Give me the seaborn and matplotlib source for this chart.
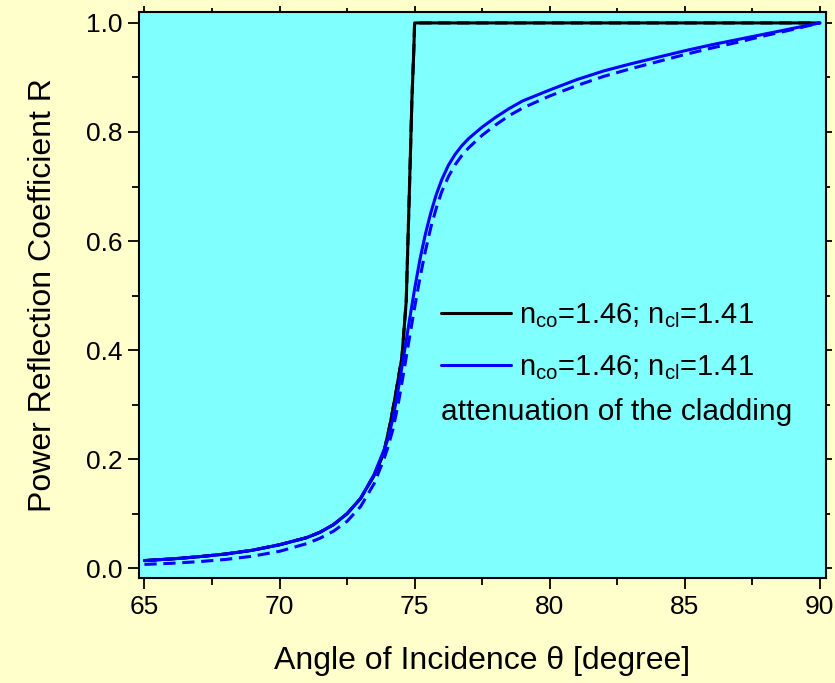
import numpy as np
import pandas as pd
import matplotlib
matplotlib.use("Agg")
import matplotlib.pyplot as plt
from matplotlib.ticker import MultipleLocator, FormatStrFormatter
import seaborn as sns

# ── data ──────────────────────────────────────────────────
# lossless cladding: reflection jumps to 1 at the critical angle
ang_black = [65.0, 66.0, 67.0, 68.0, 69.0, 70.0, 71.0, 71.5, 72.0, 72.5,
             73.0, 73.5, 73.85, 74.1, 74.3, 74.53, 74.69, 74.8, 74.9, 74.97,
             75.0, 80.0, 85.0, 90.0]
R_black   = [0.014, 0.017, 0.021, 0.026, 0.033, 0.043, 0.056, 0.066, 0.080,
             0.100, 0.128, 0.170, 0.210, 0.266, 0.320, 0.387, 0.490, 0.680,
             0.860, 0.950, 1.0, 1.0, 1.0, 1.0]

# lossy cladding (solid blue)
ang_blue = [65.0, 66.0, 67.0, 68.0, 69.0, 70.0, 71.0, 71.5, 72.0, 72.5,
            73.0, 73.5, 73.85, 74.0, 74.2, 74.4, 74.6, 74.8, 75.0, 75.2,
            75.4, 75.6, 75.8, 76.0, 76.25, 76.5, 76.75, 77.0, 77.5, 78.0,
            78.5, 79.0, 80.0, 81.0, 82.0, 83.0, 84.0, 85.0, 86.0, 87.0,
            88.0, 89.0, 90.0]
R_blue   = [0.014, 0.017, 0.021, 0.026, 0.033, 0.043, 0.056, 0.066, 0.080,
            0.100, 0.128, 0.172, 0.215, 0.235, 0.275, 0.330, 0.390, 0.452,
            0.512, 0.567, 0.613, 0.652, 0.685, 0.712, 0.739, 0.759, 0.775,
            0.788, 0.809, 0.827, 0.843, 0.857, 0.877, 0.896, 0.912, 0.925,
            0.937, 0.949, 0.960, 0.970, 0.980, 0.990, 1.0]

# lossy cladding (dashed blue)
ang_dash = [65.0, 66.0, 67.0, 68.0, 69.0, 70.0, 71.0, 71.5, 72.0, 72.5,
            73.0, 73.5, 73.85, 74.0, 74.2, 74.4, 74.6, 74.8, 75.0, 75.2,
            75.4, 75.6, 75.8, 76.0, 76.25, 76.5, 76.75, 77.0, 77.5, 78.0,
            78.5, 79.0, 80.0, 81.0, 82.0, 83.0, 84.0, 85.0, 86.0, 87.0,
            88.0, 89.0, 90.0]
R_dash   = [0.007, 0.009, 0.012, 0.016, 0.022, 0.031, 0.045, 0.055, 0.068,
            0.086, 0.113, 0.155, 0.198, 0.220, 0.255, 0.303, 0.360, 0.420,
            0.478, 0.533, 0.582, 0.625, 0.660, 0.690, 0.718, 0.740, 0.757,
            0.771, 0.794, 0.813, 0.830, 0.844, 0.866, 0.885, 0.902, 0.916,
            0.929, 0.942, 0.954, 0.965, 0.977, 0.988, 1.0]

label = r"n$_{\mathrm{co}}$=1.46; n$_{\mathrm{cl}}$=1.41"
note  = "attenuation of the cladding"

# ── style ─────────────────────────────────────────────────
sns.set_theme(style="ticks")
plt.rcParams["font.family"] = ["Liberation Sans", "DejaVu Sans"]
plt.rcParams["mathtext.fontset"] = "custom"
plt.rcParams["mathtext.rm"] = "Liberation Sans"
plt.rcParams["mathtext.it"] = "Liberation Sans:italic"
for k in ["text.color", "axes.labelcolor", "xtick.color", "ytick.color"]:
    plt.rcParams[k] = "black"

fig = plt.figure(figsize=(8.35, 6.83), dpi=100, facecolor="#FFFFCC")
ax = fig.add_axes([0.1665, 0.1537, 0.8225, 0.8287])
ax.set_facecolor("#80FFFF")

LW = 2.2
sns.lineplot(x=ang_black, y=R_black, ax=ax, color="black", lw=LW,
             estimator=None, sort=False, label=label)
sns.lineplot(x=ang_black, y=R_black, ax=ax, color="black", lw=LW,
             estimator=None, sort=False)
ax.lines[-1].set_linestyle((0, (4, 2.2)))
sns.lineplot(x=ang_dash, y=R_dash, ax=ax, color="#0000FF", lw=LW,
             estimator=None, sort=False)
ax.lines[-1].set_linestyle((0, (4, 2.2)))
sns.lineplot(x=ang_blue, y=R_blue, ax=ax, color="#0000FF", lw=LW,
             estimator=None, sort=False, label=label)

ax.set_xlim(64.8, 90.22)
ax.set_ylim(-0.018, 1.02)
ax.xaxis.set_major_locator(MultipleLocator(5))
ax.xaxis.set_minor_locator(MultipleLocator(2.5))
ax.yaxis.set_major_locator(MultipleLocator(0.2))
ax.yaxis.set_minor_locator(MultipleLocator(0.1))
ax.yaxis.set_major_formatter(FormatStrFormatter("%.1f"))

for s in ax.spines.values():
    s.set_linewidth(1.5)
    s.set_color("black")
ax.tick_params(which="major", direction="out", length=8, width=1.3,
               labelsize=19, pad=4)
ax.tick_params(which="minor", direction="out", length=5, width=1.3)
ax.tick_params(which="both", top=True, right=True)
for t in ax.xaxis.get_ticklines(minor=False)[1::2] + ax.yaxis.get_ticklines(minor=False)[1::2]:
    t.set_markersize(4)
for t in ax.xaxis.get_ticklines(minor=True)[1::2] + ax.yaxis.get_ticklines(minor=True)[1::2]:
    t.set_markersize(3)

ax.set_xlabel("Angle of Incidence θ [degree]", fontsize=23, labelpad=20)
ax.set_ylabel("Power Reflection Coefficient R", fontsize=23, labelpad=20)

ax.legend(loc="upper left", bbox_to_anchor=(0.44, 0.489), frameon=False,
          fontsize=21, handlelength=2.4, handletextpad=0.25, labelspacing=0.78,
          borderpad=0, borderaxespad=0)
ax.text(75.98, 0.286, note, fontsize=21.5, ha="left", va="center")

fig.savefig("out.png", dpi=100, facecolor=fig.get_facecolor())
